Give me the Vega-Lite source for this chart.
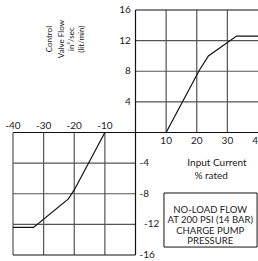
{
  "$schema": "https://vega.github.io/schema/vega-lite/v6.json",
  "width": 245,
  "height": 245,
  "autosize": {"type": "none"},
  "padding": {"left": 13, "top": 10, "right": 0, "bottom": 6},
  "background": "white",
  "config": {"view": {"stroke": null}, "text": {"font": "Lato", "fontSize": 10, "color": "#222"}},
  "datasets": {
    "grid": [
      {"x": 10, "y": 0, "x2": 10, "y2": 16, "kind": "grid"},
      {"x": 20, "y": 0, "x2": 20, "y2": 16, "kind": "grid"},
      {"x": 30, "y": 0, "x2": 30, "y2": 16, "kind": "grid"},
      {"x": 0, "y": 4, "x2": 40, "y2": 4, "kind": "grid"},
      {"x": 0, "y": 8, "x2": 40, "y2": 8, "kind": "grid"},
      {"x": 0, "y": 12, "x2": 40, "y2": 12, "kind": "grid"},
      {"x": 0, "y": 16, "x2": 40, "y2": 16, "kind": "axis"},
      {"x": -40, "y": -16, "x2": -40, "y2": 0, "kind": "grid"},
      {"x": -30, "y": -16, "x2": -30, "y2": 0, "kind": "grid"},
      {"x": -20, "y": -16, "x2": -20, "y2": 0, "kind": "grid"},
      {"x": -10, "y": -16, "x2": -10, "y2": 0, "kind": "grid"},
      {"x": -40, "y": -4, "x2": 0, "y2": -4, "kind": "grid"},
      {"x": -40, "y": -8, "x2": 0, "y2": -8, "kind": "grid"},
      {"x": -40, "y": -12, "x2": 0, "y2": -12, "kind": "grid"},
      {"x": -40, "y": -16, "x2": 0, "y2": -16, "kind": "axis"},
      {"x": -40, "y": 0, "x2": 40, "y2": 0, "kind": "axis"},
      {"x": 0, "y": -16, "x2": 0, "y2": 16, "kind": "axis"}
    ],
    "curve": [
      {"x": 10, "y": 0, "branch": "positive"},
      {"x": 20.8, "y": 8.1, "branch": "positive"},
      {"x": 23.8, "y": 10, "branch": "positive"},
      {"x": 33, "y": 12.6, "branch": "positive"},
      {"x": 40, "y": 12.6, "branch": "positive"},
      {"x": -10, "y": 0, "branch": "negative"},
      {"x": -20, "y": -7.5, "branch": "negative"},
      {"x": -22, "y": -8.7, "branch": "negative"},
      {"x": -33.3, "y": -12.4, "branch": "negative"},
      {"x": -40, "y": -12.4, "branch": "negative"}
    ],
    "labels": [
      {"x": -1.5, "y": 16, "text": "16", "kind": "yup"},
      {"x": -1.5, "y": 12, "text": "12", "kind": "yup"},
      {"x": -1.5, "y": 8, "text": "8", "kind": "yup"},
      {"x": -1.5, "y": 4, "text": "4", "kind": "yup"},
      {"x": 1.3, "y": -4, "text": "-4", "kind": "ydown"},
      {"x": 1.3, "y": -8, "text": "-8", "kind": "ydown"},
      {"x": 2.8, "y": -12, "text": "-12", "kind": "ydown"},
      {"x": 1.3, "y": -16, "text": "-16", "kind": "ydown"},
      {"x": -40, "y": 0.85, "text": "-40", "kind": "xc"},
      {"x": -30, "y": 0.85, "text": "-30", "kind": "xc"},
      {"x": -20, "y": 0.85, "text": "-20", "kind": "xc"},
      {"x": -10, "y": 0.85, "text": "-10", "kind": "xc"},
      {"x": 10, "y": -1.1, "text": "10", "kind": "xc"},
      {"x": 20, "y": -1.1, "text": "20", "kind": "xc"},
      {"x": 30, "y": -1.1, "text": "30", "kind": "xc"},
      {"x": 40, "y": -1.1, "text": "40", "kind": "xc"},
      {"x": 26.6, "y": -3.98, "text": "Input Current", "kind": "xc"},
      {"x": 24.7, "y": -5.7, "text": "% rated", "kind": "xc"},
      {"x": 24.4, "y": -10.1, "text": "NO-LOAD FLOW", "kind": "box"},
      {"x": 24.4, "y": -11.45, "text": "AT 200 PSI (14 BAR)", "kind": "box"},
      {"x": 24.4, "y": -12.8, "text": "CHARGE PUMP", "kind": "box"},
      {"x": 24.4, "y": -14.15, "text": "PRESSURE", "kind": "box"},
      {"x": -27.8, "y": 12.2, "text": "Control", "kind": "rot"},
      {"x": -24.0, "y": 12.2, "text": "Valve Flow", "kind": "rot"},
      {"x": -20.7, "y": 12.2, "text": "in³/sec", "kind": "rot"},
      {"x": -17.4, "y": 12.2, "text": "(lit/min)", "kind": "rot"}
    ],
    "box": [
      {"x": 9.3, "x2": 39.7, "y": -7.9, "y2": -14.96}
    ]
  },
  "layer": [
    {
      "data": {"name": "grid"},
      "transform": [{"filter": "datum.kind == 'grid'"}],
      "mark": {"type": "rule", "color": "#555", "strokeWidth": 1.2},
      "encoding": {
        "x": {"field": "x", "type": "quantitative", "scale": {"domain": [-40, 40], "nice": false, "zero": false}, "axis": null},
        "y": {"field": "y", "type": "quantitative", "scale": {"domain": [-16, 16], "nice": false, "zero": false}, "axis": null},
        "x2": {"field": "x2"},
        "y2": {"field": "y2"}
      }
    },
    {
      "data": {"name": "grid"},
      "transform": [{"filter": "datum.kind == 'axis'"}],
      "mark": {"type": "rule", "color": "#111", "strokeWidth": 1.2},
      "encoding": {
        "x": {"field": "x", "type": "quantitative"},
        "y": {"field": "y", "type": "quantitative"},
        "x2": {"field": "x2"},
        "y2": {"field": "y2"}
      }
    },
    {
      "data": {"name": "box"},
      "mark": {"type": "rect", "fill": "white", "stroke": "#111", "strokeWidth": 1},
      "encoding": {
        "x": {"field": "x", "type": "quantitative"},
        "x2": {"field": "x2"},
        "y": {"field": "y", "type": "quantitative"},
        "y2": {"field": "y2"}
      }
    },
    {
      "data": {"name": "curve"},
      "mark": {"type": "line", "color": "#111", "strokeWidth": 1.2},
      "encoding": {
        "x": {"field": "x", "type": "quantitative"},
        "y": {"field": "y", "type": "quantitative"},
        "detail": {"field": "branch"}
      }
    },
    {
      "data": {"name": "labels"},
      "transform": [{"filter": "datum.kind == 'yup'"}],
      "mark": {"type": "text", "align": "right", "baseline": "middle"},
      "encoding": {
        "x": {"field": "x", "type": "quantitative"},
        "y": {"field": "y", "type": "quantitative"},
        "text": {"field": "text"}
      }
    },
    {
      "data": {"name": "labels"},
      "transform": [{"filter": "datum.kind == 'ydown'"}],
      "mark": {"type": "text", "align": "left", "baseline": "middle"},
      "encoding": {
        "x": {"field": "x", "type": "quantitative"},
        "y": {"field": "y", "type": "quantitative"},
        "text": {"field": "text"}
      }
    },
    {
      "data": {"name": "labels"},
      "transform": [{"filter": "datum.kind == 'xc'"}],
      "mark": {"type": "text", "align": "center", "baseline": "middle"},
      "encoding": {
        "x": {"field": "x", "type": "quantitative"},
        "y": {"field": "y", "type": "quantitative"},
        "text": {"field": "text"}
      }
    },
    {
      "data": {"name": "labels"},
      "transform": [{"filter": "datum.kind == 'box'"}],
      "mark": {"type": "text", "align": "center", "baseline": "middle", "fontSize": 9.5},
      "encoding": {
        "x": {"field": "x", "type": "quantitative"},
        "y": {"field": "y", "type": "quantitative"},
        "text": {"field": "text"}
      }
    },
    {
      "data": {"name": "labels"},
      "transform": [{"filter": "datum.kind == 'rot'"}],
      "mark": {"type": "text", "align": "center", "baseline": "middle", "angle": 270, "fontSize": 8},
      "encoding": {
        "x": {"field": "x", "type": "quantitative"},
        "y": {"field": "y", "type": "quantitative"},
        "text": {"field": "text"}
      }
    }
  ]
}
